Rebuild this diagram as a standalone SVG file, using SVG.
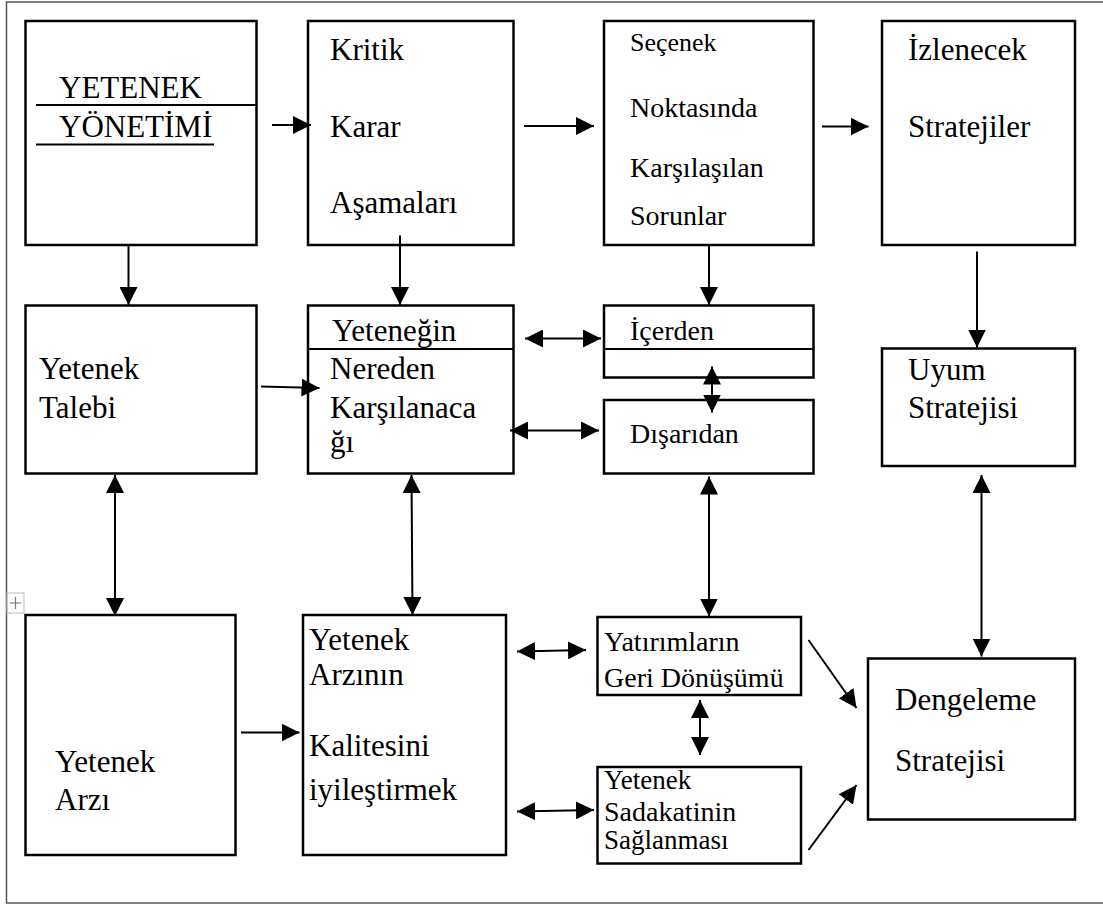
<svg xmlns="http://www.w3.org/2000/svg" width="1103" height="907" viewBox="0 0 1103 907">
<style>
.box{fill:#fff;stroke:#000;stroke-width:2.5}
.div{stroke:#000;stroke-width:2}
.t{font-family:'Liberation Serif','Times New Roman',serif;font-size:31px;fill:#000}
.s{font-size:28px}
.xs{font-size:27px}
.c{fill:none;stroke:#000;stroke-width:2}
.frame{fill:none;stroke:#555;stroke-width:1.5}
</style>
<defs>
<marker id="ah" markerUnits="userSpaceOnUse" markerWidth="18" markerHeight="18" refX="18" refY="9" orient="auto-start-reverse" viewBox="0 0 18 18">
<path d="M0,0 L18,9 L0,18 z" fill="#000"/>
</marker>
</defs>
<rect width="1103" height="907" fill="#fff"/>
<path class="frame" d="M1103,2 H6.5 V903 H1103"/>
<g id="table-handle">
<rect x="7" y="593" width="17" height="20" fill="none" stroke="#bbb" stroke-width="1"/>
<path d="M10,603 H21 M15.5,597 V609" stroke="#777" stroke-width="1.2"/>
</g>

<g id="n-yetenek-yonetimi">
<rect class="box" x="25.5" y="21" width="231" height="224"/>
<line class="div" x1="36" y1="105" x2="256" y2="105" stroke-width="1.5"/>
<line class="div" x1="36" y1="144.5" x2="214" y2="144.5" stroke-width="2.5"/>
<text class="t" x="59" y="98">YETENEK</text>
<text class="t" x="59" y="137">YÖNETİMİ</text>
</g>
<g id="n-kritik">
<rect class="box" x="308" y="21" width="205.5" height="224"/>
<text class="t" x="330" y="60">Kritik</text>
<text class="t" x="330" y="137">Karar</text>
<text class="t" x="330" y="213">Aşamaları</text>
</g>
<g id="n-secenek">
<rect class="box" x="604" y="21" width="209.5" height="224"/>
<text class="t" x="630" y="51" style="font-size:26px">Seçenek</text>
<text class="t s" x="630" y="117">Noktasında</text>
<text class="t s" x="630" y="177">Karşılaşılan</text>
<text class="t s" x="630" y="225">Sorunlar</text>
</g>
<g id="n-izlenecek">
<rect class="box" x="882" y="21" width="193" height="224"/>
<text class="t" x="908" y="60">İzlenecek</text>
<text class="t" x="908" y="137">Stratejiler</text>
</g>

<g id="n-talebi">
<rect class="box" x="25.5" y="305.5" width="231" height="168"/>
<text class="t" x="39" y="379">Yetenek</text>
<text class="t" x="39" y="418">Talebi</text>
</g>
<g id="n-yetenegin">
<rect class="box" x="308" y="305.5" width="205.5" height="168"/>
<line class="div" x1="308" y1="349" x2="513.5" y2="349"/>
<text class="t" x="332" y="341">Yeteneğin</text>
<text class="t" x="330" y="379">Nereden</text>
<text class="t" x="330" y="418">Karşılanaca</text>
<text class="t" x="330" y="452">ğı</text>
</g>
<g id="n-icerden">
<rect class="box" x="604" y="305.5" width="209.5" height="72"/>
<line class="div" x1="604" y1="349" x2="813.5" y2="349"/>
<text class="t s" x="630" y="340">İçerden</text>
</g>
<g id="n-disaridan">
<rect class="box" x="604" y="400" width="209.5" height="73.5"/>
<text class="t s" x="630" y="443">Dışarıdan</text>
</g>
<g id="n-uyum">
<rect class="box" x="882" y="348.5" width="193" height="117.5"/>
<text class="t" x="908" y="380">Uyum</text>
<text class="t" x="908" y="418">Stratejisi</text>
</g>

<g id="n-arzi">
<rect class="box" x="25.5" y="615" width="210" height="240"/>
<text class="t" x="55" y="772">Yetenek</text>
<text class="t" x="55" y="810">Arzı</text>
</g>
<g id="n-arzinin">
<rect class="box" x="303" y="615" width="203" height="240"/>
<text class="t" x="309" y="650">Yetenek</text>
<text class="t" x="309" y="685">Arzının</text>
<text class="t" x="309" y="756">Kalitesini</text>
<text class="t" x="309" y="800">iyileştirmek</text>
</g>
<g id="n-yatirimlar">
<rect class="box" x="597.5" y="617" width="203.5" height="78"/>
<text class="t s" x="604" y="651">Yatırımların</text>
<text class="t s" x="604" y="687">Geri Dönüşümü</text>
</g>
<g id="n-sadakat">
<rect class="box" x="597.5" y="767" width="203.5" height="96.5"/>
<text class="t xs" x="604" y="789">Yetenek</text>
<text class="t s" x="604" y="821">Sadakatinin</text>
<text class="t xs" x="604" y="849">Sağlanması</text>
</g>
<g id="n-dengeleme">
<rect class="box" x="868" y="658.5" width="207" height="161"/>
<text class="t" x="895" y="710">Dengeleme</text>
<text class="t" x="895" y="771">Stratejisi</text>
</g>

<g id="connectors">
<line class="c" x1="272" y1="125" x2="311" y2="125" marker-end="url(#ah)"/>
<line class="c" x1="524" y1="126" x2="594" y2="126" marker-end="url(#ah)"/>
<line class="c" x1="822" y1="126.5" x2="868.5" y2="126.5" marker-end="url(#ah)"/>
<line class="c" x1="128.5" y1="245" x2="128.5" y2="305" marker-end="url(#ah)"/>
<line class="c" x1="400" y1="235.5" x2="400" y2="305" marker-end="url(#ah)"/>
<line class="c" x1="709" y1="245" x2="709" y2="305" marker-end="url(#ah)"/>
<line class="c" x1="977" y1="251.5" x2="977" y2="347.5" marker-end="url(#ah)"/>
<line class="c" x1="261" y1="386.5" x2="319.5" y2="388" marker-end="url(#ah)"/>
<line class="c" x1="525" y1="338.5" x2="601" y2="338.5" marker-start="url(#ah)" marker-end="url(#ah)"/>
<line class="c" x1="510" y1="430.5" x2="599" y2="430.5" marker-start="url(#ah)" marker-end="url(#ah)"/>
<line class="c" x1="712" y1="366.5" x2="712" y2="412.5" marker-start="url(#ah)" marker-end="url(#ah)"/>
<line class="c" x1="115" y1="475" x2="115" y2="616" marker-start="url(#ah)" marker-end="url(#ah)"/>
<line class="c" x1="411.5" y1="475" x2="412.5" y2="615" marker-start="url(#ah)" marker-end="url(#ah)"/>
<line class="c" x1="709" y1="476.5" x2="709" y2="616.5" marker-start="url(#ah)" marker-end="url(#ah)"/>
<line class="c" x1="981.5" y1="475" x2="981.5" y2="656.5" marker-start="url(#ah)" marker-end="url(#ah)"/>
<line class="c" x1="241" y1="732.5" x2="299.5" y2="732.5" marker-end="url(#ah)"/>
<line class="c" x1="517" y1="651.5" x2="586" y2="650" marker-start="url(#ah)" marker-end="url(#ah)"/>
<line class="c" x1="517" y1="811.5" x2="594" y2="810" marker-start="url(#ah)" marker-end="url(#ah)"/>
<line class="c" x1="700" y1="700" x2="700" y2="755" marker-start="url(#ah)" marker-end="url(#ah)"/>
<line class="c" x1="808.5" y1="640" x2="856.5" y2="708" marker-end="url(#ah)"/>
<line class="c" x1="808.5" y1="850" x2="856.5" y2="785" marker-end="url(#ah)"/>
</g>
</svg>
